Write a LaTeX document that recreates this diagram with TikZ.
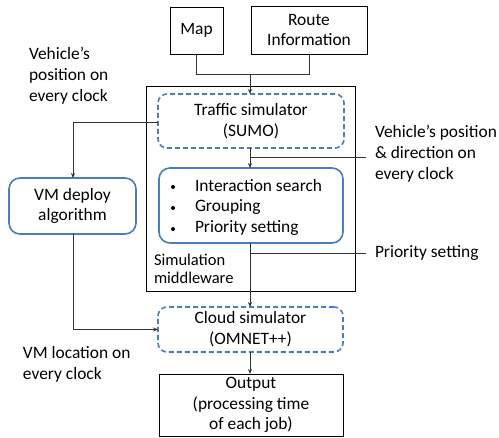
\documentclass[tikz,border=0pt]{standalone}
\usepackage{fontspec}
\setmainfont{Carlito}
\usetikzlibrary{arrows.meta}
\definecolor{accblue}{HTML}{4A7EBB}
\begin{document}
\begin{tikzpicture}[x=1pt,y=-1pt,
  every node/.style={font=\fontsize{17.4}{20.8}\selectfont, inner sep=0pt, outer sep=0pt},
  plainbox/.style={draw=black, line width=0.8pt, minimum width=#1, align=center},
  dashbox/.style={draw=accblue, line width=1.6pt, dash pattern=on 5pt off 3pt, rounded corners=9pt, align=center},
  solidbox/.style={draw=accblue, line width=1.6pt, rounded corners=11pt, align=center},
  conn/.style={draw=black!80, line width=0.7pt},
  arr/.style={conn, -{Stealth[length=5pt,width=4pt]}},
  lbl/.style={align=left, anchor=west},
  bul/.style={fill=black, circle, minimum size=4pt, inner sep=0pt}
]
\useasboundingbox (0,0) rectangle (499,438);
% outer middleware box
\node[draw=black, line width=0.8pt, minimum width=209pt, minimum height=205pt, anchor=north west] (mw) at (146,86) {};
% boxes
\node[plainbox=53pt, minimum height=47pt] (map) at (196.5,30.5) {Map};
\node[plainbox=116pt, minimum height=48pt] (route) at (309,30) {Route\\Information};
\node[dashbox, minimum width=186pt, minimum height=54pt] (traffic) at (251,121) {Traffic simulator\\(SUMO)};
\node[solidbox, minimum width=184pt, minimum height=75pt] (proc) at (251,205.5) {};
\node[dashbox, minimum width=185pt, minimum height=45pt] (cloud) at (250.5,329.5) {Cloud simulator\\(OMNET++)};
\node[plainbox=184pt, minimum height=62pt] (out) at (251,405) {Output\\(processing time\\of each job)};
\node[solidbox, minimum width=127pt, minimum height=56pt] (vm) at (72.5,206) {VM deploy\\algorithm};
% bullet list
\node[bul] (b1) at (173,187) {};
\node[bul] (b2) at (173,208) {};
\node[bul] (b3) at (173,229) {};
\node[lbl] (t1) at (195,186) {Interaction search};
\node[lbl] (t2) at (195,207) {Grouping};
\node[lbl] (t3) at (195,228) {Priority setting};
% middleware label
\node[lbl, font=\fontsize{16.5}{18}\selectfont] (mwl) at (154,269) {Simulation\\middleware};
% connectors
\coordinate (j) at (250,74);
\draw[conn] (map.south) |- (j);
\draw[conn] (route.south) |- (j);
\draw[arr] (j) -- (traffic.north -| j);
\draw[arr] (traffic.south -| j) -- (proc.north -| j);
\draw[arr] (proc.south -| j) -- (cloud.north -| j);
\draw[arr] (cloud.south -| j) -- (out.north -| j);
\coordinate (vmx) at (73,0);
\draw[arr] (traffic.west |- 0,122) -| (vm.north -| vmx);
\draw[arr] (vm.south -| vmx) |- (cloud.west);
% side labels
\node[lbl] (l1) at (29,76) {Vehicle’s\\position on\\every clock};
\node[lbl] (l2) at (23,364) {VM location on\\every clock};
\node[lbl] (l3) at (375,154) {Vehicle’s position\\\& direction on\\every clock};
\node[lbl] (l4) at (375,253) {Priority setting};
\coordinate (c1) at (250,157);
\coordinate (c2) at (250,253);
\draw[conn] (c1) -- ([xshift=-9pt]l3.west |- c1);
\draw[conn] (c2) -- ([xshift=-9pt]l4.west);
\end{tikzpicture}
\end{document}
